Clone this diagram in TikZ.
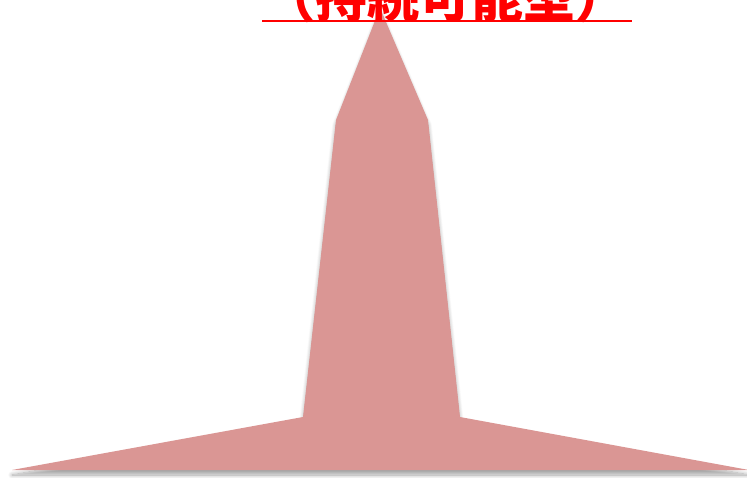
\documentclass[tikz,border=0pt]{standalone}
\usepackage{fontspec}
\newfontfamily\cjk{Noto Sans CJK JP}
\usetikzlibrary{shadows.blur}
\definecolor{towerfill}{HTML}{DA9694}
\tikzset{
  tower/.style={fill=towerfill, draw=none, blur shadow={shadow xshift=0pt, shadow yshift=-5pt, shadow blur radius=4pt, shadow blur steps=10, shadow opacity=35}},
  titletext/.style={text=red, font=\cjk\bfseries\fontsize{52}{52}\selectfont, inner sep=0pt},
  underline/.style={draw=red, line width=2pt}
}
\begin{document}
\begin{tikzpicture}[x=1pt,y=-1pt]
\useasboundingbox (0,0) rectangle (747,478);
\clip (0,0) rectangle (747,478);
\path[tower] (380,8) -- (428,120) -- (460,417) -- (749,470) -- (12,470) -- (303,417) -- (336,120) -- cycle;
\node[titletext, anchor=base] (title) at (445,18) {（持続可能型）};
\coordinate (ulL) at (262,21);
\coordinate (ulR) at (632,21);
\draw[underline] (ulL) -- (ulR);
\end{tikzpicture}
\end{document}
